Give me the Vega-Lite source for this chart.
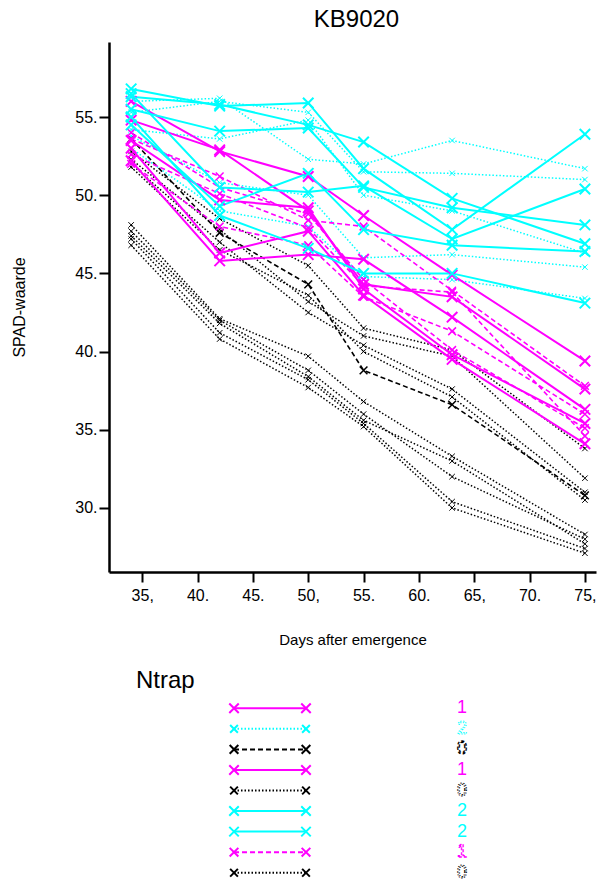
{
  "$schema": "https://vega.github.io/schema/vega-lite/v6.json",
  "background": "white",
  "padding": {"left": 11, "top": 8, "right": 0, "bottom": 0},
  "config": {
    "view": {"stroke": null},
    "font": "Liberation Sans, Arial, sans-serif",
    "axis": {
      "grid": false,
      "domainColor": "black",
      "tickColor": "black",
      "labelColor": "black",
      "titleColor": "black",
      "domainWidth": 2.5,
      "tickWidth": 2,
      "titleFontWeight": "normal",
      "labelFont": "Liberation Sans, Arial, sans-serif",
      "titleFont": "Liberation Sans, Arial, sans-serif"
    },
    "title": {"fontWeight": "normal", "color": "black", "font": "Liberation Sans, Arial, sans-serif"}
  },
  "datasets": {
    "main": [
      {"series": "B1", "ntrap": "0", "style": "dotted", "day": 34, "spad": 52.8},
      {"series": "B1", "ntrap": "0", "style": "dotted", "day": 42, "spad": 48.5},
      {"series": "B1", "ntrap": "0", "style": "dotted", "day": 50, "spad": 45.5},
      {"series": "B1", "ntrap": "0", "style": "dotted", "day": 55, "spad": 41.5},
      {"series": "B1", "ntrap": "0", "style": "dotted", "day": 63, "spad": 40.1},
      {"series": "B1", "ntrap": "0", "style": "dotted", "day": 75, "spad": 33.8},
      {"series": "B2", "ntrap": "0", "style": "dotted", "day": 34, "spad": 52.3},
      {"series": "B2", "ntrap": "0", "style": "dotted", "day": 42, "spad": 47.8},
      {"series": "B2", "ntrap": "0", "style": "dotted", "day": 50, "spad": 43.2},
      {"series": "B2", "ntrap": "0", "style": "dotted", "day": 55, "spad": 41.0},
      {"series": "B2", "ntrap": "0", "style": "dotted", "day": 63, "spad": 39.7},
      {"series": "B2", "ntrap": "0", "style": "dotted", "day": 75, "spad": 31.9},
      {"series": "B3", "ntrap": "0", "style": "dotted", "day": 34, "spad": 52.0},
      {"series": "B3", "ntrap": "0", "style": "dotted", "day": 42, "spad": 47.0},
      {"series": "B3", "ntrap": "0", "style": "dotted", "day": 50, "spad": 42.5},
      {"series": "B3", "ntrap": "0", "style": "dotted", "day": 55, "spad": 40.4},
      {"series": "B3", "ntrap": "0", "style": "dotted", "day": 63, "spad": 37.6},
      {"series": "B3", "ntrap": "0", "style": "dotted", "day": 75, "spad": 31.0},
      {"series": "B4", "ntrap": "0", "style": "dotted", "day": 34, "spad": 51.8},
      {"series": "B4", "ntrap": "0", "style": "dotted", "day": 42, "spad": 46.5},
      {"series": "B4", "ntrap": "0", "style": "dotted", "day": 50, "spad": 43.6},
      {"series": "B4", "ntrap": "0", "style": "dotted", "day": 55, "spad": 40.0},
      {"series": "B4", "ntrap": "0", "style": "dotted", "day": 63, "spad": 37.1},
      {"series": "B4", "ntrap": "0", "style": "dotted", "day": 75, "spad": 30.5},
      {"series": "B5", "ntrap": "0", "style": "dotted", "day": 34, "spad": 48.1},
      {"series": "B5", "ntrap": "0", "style": "dotted", "day": 42, "spad": 42.1},
      {"series": "B5", "ntrap": "0", "style": "dotted", "day": 50, "spad": 39.7},
      {"series": "B5", "ntrap": "0", "style": "dotted", "day": 55, "spad": 36.8},
      {"series": "B5", "ntrap": "0", "style": "dotted", "day": 63, "spad": 33.3},
      {"series": "B5", "ntrap": "0", "style": "dotted", "day": 75, "spad": 28.3},
      {"series": "B6", "ntrap": "0", "style": "dotted", "day": 34, "spad": 47.7},
      {"series": "B6", "ntrap": "0", "style": "dotted", "day": 42, "spad": 42.0},
      {"series": "B6", "ntrap": "0", "style": "dotted", "day": 50, "spad": 38.8},
      {"series": "B6", "ntrap": "0", "style": "dotted", "day": 55, "spad": 36.0},
      {"series": "B6", "ntrap": "0", "style": "dotted", "day": 63, "spad": 32.0},
      {"series": "B6", "ntrap": "0", "style": "dotted", "day": 75, "spad": 28.0},
      {"series": "B7", "ntrap": "0", "style": "dotted", "day": 34, "spad": 47.4},
      {"series": "B7", "ntrap": "0", "style": "dotted", "day": 42, "spad": 41.8},
      {"series": "B7", "ntrap": "0", "style": "dotted", "day": 50, "spad": 38.4},
      {"series": "B7", "ntrap": "0", "style": "dotted", "day": 55, "spad": 35.6},
      {"series": "B7", "ntrap": "0", "style": "dotted", "day": 63, "spad": 33.0},
      {"series": "B7", "ntrap": "0", "style": "dotted", "day": 75, "spad": 27.7},
      {"series": "B8", "ntrap": "0", "style": "dotted", "day": 34, "spad": 47.2},
      {"series": "B8", "ntrap": "0", "style": "dotted", "day": 42, "spad": 41.2},
      {"series": "B8", "ntrap": "0", "style": "dotted", "day": 50, "spad": 38.2},
      {"series": "B8", "ntrap": "0", "style": "dotted", "day": 55, "spad": 35.4},
      {"series": "B8", "ntrap": "0", "style": "dotted", "day": 63, "spad": 30.4},
      {"series": "B8", "ntrap": "0", "style": "dotted", "day": 75, "spad": 27.4},
      {"series": "B9", "ntrap": "0", "style": "dotted", "day": 34, "spad": 46.8},
      {"series": "B9", "ntrap": "0", "style": "dotted", "day": 42, "spad": 40.8},
      {"series": "B9", "ntrap": "0", "style": "dotted", "day": 50, "spad": 37.7},
      {"series": "B9", "ntrap": "0", "style": "dotted", "day": 55, "spad": 35.2},
      {"series": "B9", "ntrap": "0", "style": "dotted", "day": 63, "spad": 30.0},
      {"series": "B9", "ntrap": "0", "style": "dotted", "day": 75, "spad": 27.1},
      {"series": "CD1", "ntrap": "2", "style": "dotted", "day": 34, "spad": 56.0},
      {"series": "CD1", "ntrap": "2", "style": "dotted", "day": 42, "spad": 56.2},
      {"series": "CD1", "ntrap": "2", "style": "dotted", "day": 50, "spad": 52.3},
      {"series": "CD1", "ntrap": "2", "style": "dotted", "day": 55, "spad": 52.0},
      {"series": "CD1", "ntrap": "2", "style": "dotted", "day": 63, "spad": 53.5},
      {"series": "CD1", "ntrap": "2", "style": "dotted", "day": 75, "spad": 51.7},
      {"series": "CD2", "ntrap": "2", "style": "dotted", "day": 34, "spad": 55.3},
      {"series": "CD2", "ntrap": "2", "style": "dotted", "day": 42, "spad": 56.0},
      {"series": "CD2", "ntrap": "2", "style": "dotted", "day": 50, "spad": 55.3},
      {"series": "CD2", "ntrap": "2", "style": "dotted", "day": 55, "spad": 51.5},
      {"series": "CD2", "ntrap": "2", "style": "dotted", "day": 63, "spad": 51.4},
      {"series": "CD2", "ntrap": "2", "style": "dotted", "day": 75, "spad": 51.0},
      {"series": "CD3", "ntrap": "2", "style": "dotted", "day": 34, "spad": 54.2},
      {"series": "CD3", "ntrap": "2", "style": "dotted", "day": 42, "spad": 53.6},
      {"series": "CD3", "ntrap": "2", "style": "dotted", "day": 50, "spad": 54.8},
      {"series": "CD3", "ntrap": "2", "style": "dotted", "day": 55, "spad": 50.0},
      {"series": "CD3", "ntrap": "2", "style": "dotted", "day": 63, "spad": 49.0},
      {"series": "CD3", "ntrap": "2", "style": "dotted", "day": 75, "spad": 46.3},
      {"series": "CD4", "ntrap": "2", "style": "dotted", "day": 34, "spad": 53.8},
      {"series": "CD4", "ntrap": "2", "style": "dotted", "day": 42, "spad": 50.8},
      {"series": "CD4", "ntrap": "2", "style": "dotted", "day": 50, "spad": 50.0},
      {"series": "CD4", "ntrap": "2", "style": "dotted", "day": 55, "spad": 46.0},
      {"series": "CD4", "ntrap": "2", "style": "dotted", "day": 63, "spad": 46.2},
      {"series": "CD4", "ntrap": "2", "style": "dotted", "day": 75, "spad": 45.4},
      {"series": "CD5", "ntrap": "2", "style": "dotted", "day": 34, "spad": 53.0},
      {"series": "CD5", "ntrap": "2", "style": "dotted", "day": 42, "spad": 49.0},
      {"series": "CD5", "ntrap": "2", "style": "dotted", "day": 50, "spad": 48.0},
      {"series": "CD5", "ntrap": "2", "style": "dotted", "day": 55, "spad": 44.8},
      {"series": "CD5", "ntrap": "2", "style": "dotted", "day": 63, "spad": 44.6},
      {"series": "CD5", "ntrap": "2", "style": "dotted", "day": 75, "spad": 43.4},
      {"series": "K1", "ntrap": "0", "style": "dashed", "day": 34, "spad": 53.6},
      {"series": "K1", "ntrap": "0", "style": "dashed", "day": 42, "spad": 47.6},
      {"series": "K1", "ntrap": "0", "style": "dashed", "day": 50, "spad": 44.3},
      {"series": "K1", "ntrap": "0", "style": "dashed", "day": 55, "spad": 38.8},
      {"series": "K1", "ntrap": "0", "style": "dashed", "day": 63, "spad": 36.6},
      {"series": "K1", "ntrap": "0", "style": "dashed", "day": 75, "spad": 30.8},
      {"series": "MD1", "ntrap": "1", "style": "dashed", "day": 34, "spad": 53.6},
      {"series": "MD1", "ntrap": "1", "style": "dashed", "day": 42, "spad": 51.2},
      {"series": "MD1", "ntrap": "1", "style": "dashed", "day": 50, "spad": 48.4},
      {"series": "MD1", "ntrap": "1", "style": "dashed", "day": 55, "spad": 48.0},
      {"series": "MD1", "ntrap": "1", "style": "dashed", "day": 63, "spad": 43.9},
      {"series": "MD1", "ntrap": "1", "style": "dashed", "day": 75, "spad": 37.8},
      {"series": "MD2", "ntrap": "1", "style": "dashed", "day": 34, "spad": 52.6},
      {"series": "MD2", "ntrap": "1", "style": "dashed", "day": 42, "spad": 50.1},
      {"series": "MD2", "ntrap": "1", "style": "dashed", "day": 50, "spad": 47.9},
      {"series": "MD2", "ntrap": "1", "style": "dashed", "day": 55, "spad": 44.2},
      {"series": "MD2", "ntrap": "1", "style": "dashed", "day": 63, "spad": 43.8},
      {"series": "MD2", "ntrap": "1", "style": "dashed", "day": 75, "spad": 34.6},
      {"series": "MD3", "ntrap": "1", "style": "dashed", "day": 34, "spad": 52.0},
      {"series": "MD3", "ntrap": "1", "style": "dashed", "day": 42, "spad": 48.0},
      {"series": "MD3", "ntrap": "1", "style": "dashed", "day": 50, "spad": 46.8},
      {"series": "MD3", "ntrap": "1", "style": "dashed", "day": 55, "spad": 43.5},
      {"series": "MD3", "ntrap": "1", "style": "dashed", "day": 63, "spad": 41.3},
      {"series": "MD3", "ntrap": "1", "style": "dashed", "day": 75, "spad": 36.0},
      {"series": "MD4", "ntrap": "1", "style": "dashed", "day": 34, "spad": 54.0},
      {"series": "MD4", "ntrap": "1", "style": "dashed", "day": 42, "spad": 50.5},
      {"series": "MD4", "ntrap": "1", "style": "dashed", "day": 50, "spad": 48.8},
      {"series": "MD4", "ntrap": "1", "style": "dashed", "day": 55, "spad": 44.6},
      {"series": "MD4", "ntrap": "1", "style": "dashed", "day": 63, "spad": 40.1},
      {"series": "MD4", "ntrap": "1", "style": "dashed", "day": 75, "spad": 35.1},
      {"series": "M1", "ntrap": "1", "style": "solid", "day": 34, "spad": 56.0},
      {"series": "M1", "ntrap": "1", "style": "solid", "day": 42, "spad": 52.8},
      {"series": "M1", "ntrap": "1", "style": "solid", "day": 50, "spad": 51.2},
      {"series": "M1", "ntrap": "1", "style": "solid", "day": 55, "spad": 48.7},
      {"series": "M1", "ntrap": "1", "style": "solid", "day": 63, "spad": 44.9},
      {"series": "M1", "ntrap": "1", "style": "solid", "day": 75, "spad": 39.4},
      {"series": "M2", "ntrap": "1", "style": "solid", "day": 34, "spad": 54.8},
      {"series": "M2", "ntrap": "1", "style": "solid", "day": 42, "spad": 52.9},
      {"series": "M2", "ntrap": "1", "style": "solid", "day": 50, "spad": 49.0},
      {"series": "M2", "ntrap": "1", "style": "solid", "day": 55, "spad": 44.3},
      {"series": "M2", "ntrap": "1", "style": "solid", "day": 63, "spad": 43.5},
      {"series": "M2", "ntrap": "1", "style": "solid", "day": 75, "spad": 37.6},
      {"series": "M3", "ntrap": "1", "style": "solid", "day": 34, "spad": 53.5},
      {"series": "M3", "ntrap": "1", "style": "solid", "day": 42, "spad": 49.7},
      {"series": "M3", "ntrap": "1", "style": "solid", "day": 50, "spad": 49.2},
      {"series": "M3", "ntrap": "1", "style": "solid", "day": 55, "spad": 44.0},
      {"series": "M3", "ntrap": "1", "style": "solid", "day": 63, "spad": 39.8},
      {"series": "M3", "ntrap": "1", "style": "solid", "day": 75, "spad": 35.4},
      {"series": "M4", "ntrap": "1", "style": "solid", "day": 34, "spad": 52.2},
      {"series": "M4", "ntrap": "1", "style": "solid", "day": 42, "spad": 45.8},
      {"series": "M4", "ntrap": "1", "style": "solid", "day": 50, "spad": 46.2},
      {"series": "M4", "ntrap": "1", "style": "solid", "day": 55, "spad": 45.9},
      {"series": "M4", "ntrap": "1", "style": "solid", "day": 63, "spad": 42.2},
      {"series": "M4", "ntrap": "1", "style": "solid", "day": 75, "spad": 36.3},
      {"series": "M5", "ntrap": "1", "style": "solid", "day": 34, "spad": 53.0},
      {"series": "M5", "ntrap": "1", "style": "solid", "day": 42, "spad": 46.3},
      {"series": "M5", "ntrap": "1", "style": "solid", "day": 50, "spad": 47.7},
      {"series": "M5", "ntrap": "1", "style": "solid", "day": 55, "spad": 43.6},
      {"series": "M5", "ntrap": "1", "style": "solid", "day": 63, "spad": 39.5},
      {"series": "M5", "ntrap": "1", "style": "solid", "day": 75, "spad": 34.1},
      {"series": "C1", "ntrap": "2", "style": "solid", "day": 34, "spad": 56.8},
      {"series": "C1", "ntrap": "2", "style": "solid", "day": 42, "spad": 55.7},
      {"series": "C1", "ntrap": "2", "style": "solid", "day": 50, "spad": 55.9},
      {"series": "C1", "ntrap": "2", "style": "solid", "day": 55, "spad": 51.7},
      {"series": "C1", "ntrap": "2", "style": "solid", "day": 63, "spad": 47.8},
      {"series": "C1", "ntrap": "2", "style": "solid", "day": 75, "spad": 53.9},
      {"series": "C2", "ntrap": "2", "style": "solid", "day": 34, "spad": 56.3},
      {"series": "C2", "ntrap": "2", "style": "solid", "day": 42, "spad": 55.8},
      {"series": "C2", "ntrap": "2", "style": "solid", "day": 50, "spad": 54.5},
      {"series": "C2", "ntrap": "2", "style": "solid", "day": 55, "spad": 53.4},
      {"series": "C2", "ntrap": "2", "style": "solid", "day": 63, "spad": 49.8},
      {"series": "C2", "ntrap": "2", "style": "solid", "day": 75, "spad": 46.9},
      {"series": "C3", "ntrap": "2", "style": "solid", "day": 34, "spad": 55.5},
      {"series": "C3", "ntrap": "2", "style": "solid", "day": 42, "spad": 54.1},
      {"series": "C3", "ntrap": "2", "style": "solid", "day": 50, "spad": 54.3},
      {"series": "C3", "ntrap": "2", "style": "solid", "day": 55, "spad": 50.5},
      {"series": "C3", "ntrap": "2", "style": "solid", "day": 63, "spad": 49.2},
      {"series": "C3", "ntrap": "2", "style": "solid", "day": 75, "spad": 48.1},
      {"series": "C4", "ntrap": "2", "style": "solid", "day": 34, "spad": 56.5},
      {"series": "C4", "ntrap": "2", "style": "solid", "day": 42, "spad": 50.5},
      {"series": "C4", "ntrap": "2", "style": "solid", "day": 50, "spad": 50.2},
      {"series": "C4", "ntrap": "2", "style": "solid", "day": 55, "spad": 50.6},
      {"series": "C4", "ntrap": "2", "style": "solid", "day": 63, "spad": 47.2},
      {"series": "C4", "ntrap": "2", "style": "solid", "day": 75, "spad": 50.4},
      {"series": "C5", "ntrap": "2", "style": "solid", "day": 34, "spad": 54.5},
      {"series": "C5", "ntrap": "2", "style": "solid", "day": 42, "spad": 49.3},
      {"series": "C5", "ntrap": "2", "style": "solid", "day": 50, "spad": 51.4},
      {"series": "C5", "ntrap": "2", "style": "solid", "day": 55, "spad": 47.8},
      {"series": "C5", "ntrap": "2", "style": "solid", "day": 63, "spad": 46.8},
      {"series": "C5", "ntrap": "2", "style": "solid", "day": 75, "spad": 46.4},
      {"series": "C6", "ntrap": "2", "style": "solid", "day": 34, "spad": 55.0},
      {"series": "C6", "ntrap": "2", "style": "solid", "day": 42, "spad": 48.7},
      {"series": "C6", "ntrap": "2", "style": "solid", "day": 50, "spad": 46.6},
      {"series": "C6", "ntrap": "2", "style": "solid", "day": 55, "spad": 45.0},
      {"series": "C6", "ntrap": "2", "style": "solid", "day": 63, "spad": 45.0},
      {"series": "C6", "ntrap": "2", "style": "solid", "day": 75, "spad": 43.1}
    ],
    "legend": [
      {"entry": 1, "ntrap": "1", "style": "solid"},
      {"entry": 2, "ntrap": "2", "style": "dotted"},
      {"entry": 3, "ntrap": "0", "style": "dashed"},
      {"entry": 4, "ntrap": "1", "style": "solid"},
      {"entry": 5, "ntrap": "0", "style": "dotted"},
      {"entry": 6, "ntrap": "2", "style": "solid"},
      {"entry": 7, "ntrap": "2", "style": "solid"},
      {"entry": 8, "ntrap": "1", "style": "dashed"},
      {"entry": 9, "ntrap": "0", "style": "dotted"}
    ]
  },
  "spacing": 22,
  "resolve": {"scale": {"x": "independent", "y": "independent", "strokeDash": "independent", "size": "independent"}},
  "vconcat": [
    {
      "width": 487,
      "height": 530,
      "title": {"text": "KB9020", "fontSize": 24, "frame": "group", "anchor": "middle", "offset": 10, "dx": 4},
      "data": {"name": "main"},
      "encoding": {
        "x": {
          "field": "day", "type": "quantitative",
          "scale": {"domain": [32, 76], "nice": false, "zero": false},
          "axis": {
            "title": "Days after emergence",
            "values": [35, 40, 45, 50, 55, 60, 65, 70, 75],
            "labelExpr": "(datum.value == 35 || datum.value == 50 || datum.value == 65 || datum.value == 75) ? datum.value + ',' : datum.value + '.'",
            "labelFlush": false,
            "tickSize": 10,
            "labelPadding": 5,
            "labelFontSize": 16,
            "titleFontSize": 15,
            "titleY": 72,
            "titleBaseline": "alphabetic"
          }
        },
        "y": {
          "field": "spad", "type": "quantitative",
          "scale": {"domain": [25.9, 59.8], "nice": false, "zero": false},
          "axis": {
            "title": "SPAD-waarde",
            "values": [30, 35, 40, 45, 50, 55],
            "labelExpr": "datum.value + '.'",
            "tickSize": 10,
            "labelPadding": 2,
            "labelFontSize": 16,
            "titleFontSize": 16,
            "titleX": -82,
            "titleY": 265,
            "titleAlign": "center",
            "titleBaseline": "bottom"
          }
        },
        "color": {"field": "ntrap", "type": "nominal", "scale": {"domain": ["0", "1", "2"], "range": ["#000000", "#ff00ff", "#00ffff"]}, "legend": null},
        "detail": {"field": "series"}
      },
      "layer": [
        {"transform": [{"filter": "datum.style === 'dotted'"}], "mark": {"type": "line", "strokeDash": [1.5, 2], "strokeWidth": 1.5}},
        {"transform": [{"filter": "datum.style === 'dotted'"}], "mark": {"type": "point", "shape": "M-1,-1L1,1M-1,1L1,-1", "size": 30, "filled": false, "strokeWidth": 1, "opacity": 1}},
        {"transform": [{"filter": "datum.style === 'dashed'"}], "mark": {"type": "line", "strokeDash": [5, 3], "strokeWidth": 1.6}},
        {"transform": [{"filter": "datum.style === 'dashed'"}], "mark": {"type": "point", "shape": "M-1,-1L1,1M-1,1L1,-1", "size": 60, "filled": false, "strokeWidth": 1.5, "opacity": 1}},
        {"transform": [{"filter": "datum.style === 'solid'"}], "mark": {"type": "line", "strokeWidth": 2}},
        {"transform": [{"filter": "datum.style === 'solid'"}], "mark": {"type": "point", "shape": "M-1,-1L1,1M-1,1L1,-1", "size": 110, "filled": false, "strokeWidth": 2, "opacity": 1}}
      ]
    },
    {
      "width": 487,
      "height": 185,
      "title": {"text": "Ntrap", "fontSize": 24, "anchor": "start", "frame": "group", "dx": 27, "offset": 5},
      "data": {"name": "legend"},
      "encoding": {
        "y": {"field": "entry", "type": "quantitative", "scale": {"domain": [0.5, 9.5], "reverse": true}, "axis": null}
      },
      "layer": [
        {
          "mark": {"type": "rule", "strokeWidth": 2},
          "encoding": {
            "x": {"datum": 2.567, "type": "quantitative", "scale": {"domain": [0, 10], "nice": false}, "axis": null},
            "x2": {"datum": 4.045},
            "color": {"field": "ntrap", "type": "nominal", "scale": {"domain": ["0", "1", "2"], "range": ["#000000", "#ff00ff", "#00ffff"]}, "legend": null},
            "strokeDash": {"field": "style", "type": "nominal", "scale": {"domain": ["solid", "dotted", "dashed"], "range": [[1, 0], [1.5, 2], [5, 3]]}, "legend": null}
          }
        },
        {
          "mark": {"type": "point", "shape": "M-1,-1L1,1M-1,1L1,-1", "filled": false, "strokeWidth": 2, "opacity": 1},
          "encoding": {
            "x": {"datum": 2.567, "type": "quantitative", "scale": {"domain": [0, 10], "nice": false}, "axis": null},
            "color": {"field": "ntrap", "type": "nominal", "legend": null},
            "size": {"field": "style", "type": "ordinal", "scale": {"domain": ["solid", "dashed", "dotted"], "range": [90, 60, 30]}, "legend": null}
          }
        },
        {
          "mark": {"type": "point", "shape": "M-1,-1L1,1M-1,1L1,-1", "filled": false, "strokeWidth": 2, "opacity": 1},
          "encoding": {
            "x": {"datum": 4.045, "type": "quantitative", "scale": {"domain": [0, 10], "nice": false}, "axis": null},
            "color": {"field": "ntrap", "type": "nominal", "legend": null},
            "size": {"field": "style", "type": "ordinal", "scale": {"domain": ["solid", "dashed", "dotted"], "range": [90, 60, 30]}, "legend": null}
          }
        },
        {
          "transform": [{"filter": "datum.style === 'solid'"}],
          "mark": {"type": "text", "fontSize": 18, "align": "center", "baseline": "middle"},
          "encoding": {
            "x": {"datum": 7.25, "type": "quantitative", "scale": {"domain": [0, 10], "nice": false}, "axis": null},
            "text": {"field": "ntrap"},
            "color": {"field": "ntrap", "type": "nominal", "legend": null}
          }
        },
        {
          "transform": [{"filter": "datum.style === 'dashed'"}],
          "mark": {"type": "text", "fontSize": 18, "align": "center", "baseline": "middle", "fillOpacity": 0, "strokeWidth": 1.3, "strokeDash": [3, 2]},
          "encoding": {
            "x": {"datum": 7.25, "type": "quantitative", "scale": {"domain": [0, 10], "nice": false}, "axis": null},
            "text": {"field": "ntrap"},
            "stroke": {"field": "ntrap", "type": "nominal", "scale": {"domain": ["0", "1", "2"], "range": ["#000000", "#ff00ff", "#00ffff"]}, "legend": null}
          }
        },
        {
          "transform": [{"filter": "datum.style === 'dotted'"}],
          "mark": {"type": "text", "fontSize": 18, "align": "center", "baseline": "middle", "fillOpacity": 0, "strokeWidth": 1.1, "strokeDash": [1.2, 1.5]},
          "encoding": {
            "x": {"datum": 7.25, "type": "quantitative", "scale": {"domain": [0, 10], "nice": false}, "axis": null},
            "text": {"field": "ntrap"},
            "stroke": {"field": "ntrap", "type": "nominal", "scale": {"domain": ["0", "1", "2"], "range": ["#000000", "#ff00ff", "#00ffff"]}, "legend": null}
          }
        }
      ]
    }
  ]
}
